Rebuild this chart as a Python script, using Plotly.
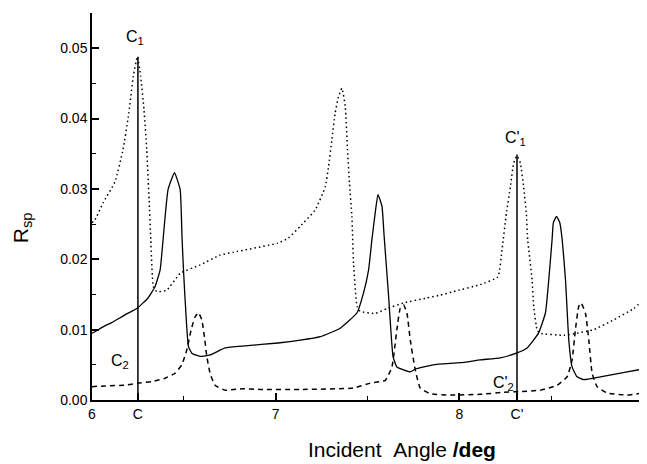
import plotly.graph_objects as go

# Solid curve
solid_x = [6.000, 6.016, 6.060, 6.107, 6.180, 6.244, 6.305, 6.343, 6.371, 6.387, 6.414, 6.449,
           6.480, 6.490, 6.498, 6.512, 6.525, 6.545, 6.589, 6.643, 6.725, 6.834, 7.012, 7.134,
           7.243, 7.351, 7.443, 7.478, 7.506, 7.524, 7.542, 7.557, 7.579, 7.590, 7.615, 7.639,
           7.660, 7.733, 7.760, 7.858, 8.005, 8.114, 8.223, 8.314, 8.369, 8.431, 8.469, 8.487,
           8.505, 8.512, 8.529, 8.547, 8.560, 8.578, 8.596, 8.614, 8.641, 8.677, 8.768, 8.914, 9.000]
solid_y = [0.0095, 0.0097, 0.0104, 0.0110, 0.0121, 0.0130, 0.0145, 0.0161, 0.0185, 0.0228, 0.0299, 0.0323,
           0.0299, 0.0232, 0.0185, 0.0120, 0.0076, 0.0066, 0.0062, 0.0064, 0.0074, 0.0077, 0.0081, 0.0085,
           0.0090, 0.0102, 0.0124, 0.0152, 0.0185, 0.0228, 0.0266, 0.0292, 0.0275, 0.0235, 0.0147, 0.0062,
           0.0047, 0.0040, 0.0044, 0.0050, 0.0053, 0.0057, 0.0060, 0.0067, 0.0074, 0.0095, 0.0124, 0.0171,
           0.0228, 0.0252, 0.0261, 0.0252, 0.0228, 0.0171, 0.0085, 0.0047, 0.0033, 0.0029, 0.0033, 0.0040, 0.0044]

# Dotted curve
dot_x = [6.000, 6.016, 6.060, 6.125, 6.169, 6.198, 6.225, 6.247, 6.265, 6.283, 6.298, 6.311,
         6.320, 6.334, 6.353, 6.407, 6.480, 6.589, 6.698, 6.770, 7.012, 7.068, 7.134, 7.215,
         7.270, 7.288, 7.306, 7.324, 7.342, 7.361, 7.379, 7.391, 7.402, 7.415, 7.424, 7.443,
         7.460, 7.542, 7.606, 7.697, 7.824, 7.896, 7.967, 8.114, 8.210, 8.233, 8.256, 8.278,
         8.296, 8.314, 8.332, 8.350, 8.365, 8.372, 8.396, 8.405, 8.423, 8.438, 8.569, 8.641,
         8.732, 8.841, 8.950, 9.000]
dot_y = [0.0252, 0.0256, 0.0280, 0.0310, 0.0356, 0.0403, 0.0460, 0.0488, 0.0460, 0.0413, 0.0356, 0.0284,
         0.0228, 0.0161, 0.0154, 0.0156, 0.0180, 0.0192, 0.0206, 0.0210, 0.0223, 0.0230, 0.0247, 0.0270,
         0.0303, 0.0332, 0.0370, 0.0408, 0.0431, 0.0443, 0.0417, 0.0356, 0.0308, 0.0261, 0.0194, 0.0133,
         0.0126, 0.0123, 0.0130, 0.0138, 0.0145, 0.0149, 0.0154, 0.0164, 0.0175, 0.0215, 0.0265, 0.0303,
         0.0337, 0.0347, 0.0337, 0.0303, 0.0265, 0.0228, 0.0171, 0.0133, 0.0100, 0.0095, 0.0092, 0.0095,
         0.0100, 0.0114, 0.0130, 0.0142]

# Dashed curve
dash_x = [6.000, 6.071, 6.180, 6.252, 6.325, 6.398, 6.452, 6.489, 6.516, 6.540, 6.561, 6.579,
          6.598, 6.612, 6.625, 6.643, 6.670, 6.725, 6.816, 6.916, 7.134, 7.424, 7.515, 7.597,
          7.633, 7.660, 7.678, 7.697, 7.715, 7.733, 7.760, 7.787, 7.842, 7.951, 8.114, 8.240,
          8.332, 8.441, 8.532, 8.587, 8.614, 8.632, 8.650, 8.663, 8.687, 8.705, 8.723, 8.750,
          8.805, 8.914, 9.000]
dash_y = [0.0019, 0.0020, 0.0021, 0.0024, 0.0026, 0.0031, 0.0038, 0.0050, 0.0071, 0.0100, 0.0118, 0.0124,
          0.0114, 0.0090, 0.0062, 0.0038, 0.0021, 0.0014, 0.0016, 0.0015, 0.0015, 0.0017, 0.0024, 0.0028,
          0.0047, 0.0100, 0.0130, 0.0135, 0.0123, 0.0085, 0.0043, 0.0017, 0.0009, 0.0007, 0.0008, 0.0011,
          0.0012, 0.0014, 0.0021, 0.0033, 0.0057, 0.0100, 0.0133, 0.0138, 0.0123, 0.0085, 0.0038, 0.0019,
          0.0010, 0.0007, 0.0010]

# Marker lines C and C'
c_x = 6.25
c_top = 0.0488
cp_x = 8.314
cp_top = 0.0349

x_tickvals = [6, c_x, 7, 8, cp_x, 9]
x_ticktext = ["6", "C", "7", "8", "C'", "9"]
y_tickvals = [0.00, 0.01, 0.02, 0.03, 0.04, 0.05]

FONT = "Liberation Sans, Arial, sans-serif"

fig = go.Figure()
fig.add_trace(go.Scatter(x=dot_x, y=dot_y, mode="lines",
                         line=dict(color="black", width=1.5, dash="1.5px,3px", shape="spline", smoothing=0.4)))
fig.add_trace(go.Scatter(x=dash_x, y=dash_y, mode="lines",
                         line=dict(color="black", width=1.5, dash="5px,4px", shape="spline", smoothing=0.4)))
fig.add_trace(go.Scatter(x=solid_x, y=solid_y, mode="lines",
                         line=dict(color="black", width=1.3, shape="spline", smoothing=0.4)))
fig.add_trace(go.Scatter(x=[c_x, c_x], y=[0, c_top], mode="lines",
                         line=dict(color="black", width=1.5)))
fig.add_trace(go.Scatter(x=[cp_x, cp_x], y=[0, cp_top], mode="lines",
                         line=dict(color="black", width=1.5)))

ann_font = dict(family=FONT, size=16, color="black")
annotations = [
    dict(x=c_x - 0.015, y=0.0515, text="C<sub>1</sub>", showarrow=False, font=ann_font, xref="x", yref="y"),
    dict(x=6.15, y=0.0055, text="C<sub>2</sub>", showarrow=False, font=ann_font, xref="x", yref="y"),
    dict(x=cp_x - 0.01, y=0.0372, text="C'<sub>1</sub>", showarrow=False, font=ann_font, xref="x", yref="y"),
    dict(x=8.24, y=0.0024, text="C'<sub>2</sub>", showarrow=False, font=ann_font, xref="x", yref="y"),
    dict(x=0.563, y=-0.128, xref="paper", yref="paper", showarrow=False,
         text="Incident\u00a0\u00a0Angle <b>/deg</b>",
         font=dict(family=FONT, size=21, color="black"), xanchor="center", yanchor="middle"),
    dict(x=-0.127, y=0.444, xref="paper", yref="paper", showarrow=False, textangle=-90,
         text="R<sub>sp</sub>", font=dict(family=FONT, size=21, color="black"),
         xanchor="center", yanchor="middle"),
]

# page has an 8px body margin, so the figure is sized to fit the window
fig.update_layout(
    width=639, height=456,
    margin=dict(l=84, r=4, t=5, b=64),
    paper_bgcolor="white", plot_bgcolor="white",
    showlegend=False,
    font=dict(family=FONT, size=13, color="black"),
    annotations=annotations,
)
fig.update_xaxes(range=[6, 9], tickvals=x_tickvals, ticktext=x_ticktext,
                 ticks="inside", ticklen=7, tickwidth=1.5, tickcolor="black",
                 showline=True, linecolor="black", linewidth=1.5, showgrid=False, zeroline=False,
                 minor=dict(dtick=0.5, tick0=6, ticks="inside", ticklen=4, tickwidth=1.2, tickcolor="black"),
                 tickfont=dict(family=FONT, size=14))
fig.update_yaxes(range=[0, 0.055], tickvals=y_tickvals, tickformat=".2f",
                 ticks="inside", ticklen=7, tickwidth=1.5, tickcolor="black",
                 showline=True, linecolor="black", linewidth=1.5, showgrid=False, zeroline=False,
                 minor=dict(dtick=0.005, tick0=0, ticks="inside", ticklen=4, tickwidth=1.2, tickcolor="black"),
                 tickfont=dict(family=FONT, size=14))

fig.write_html("out.html")
